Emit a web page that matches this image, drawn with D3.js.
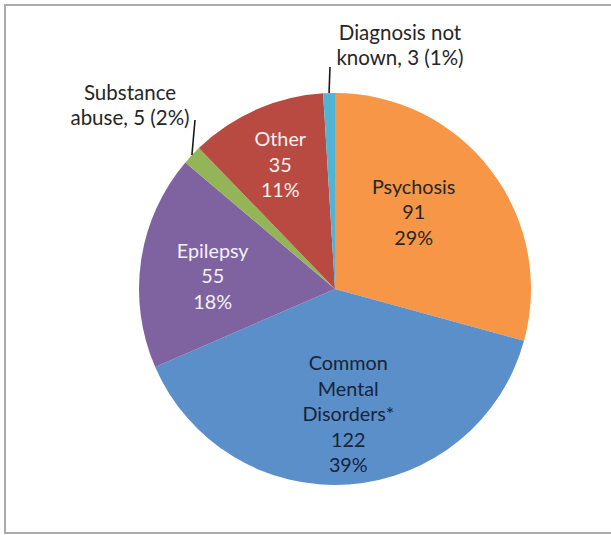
<!DOCTYPE html>
<html>
<head>
<meta charset="utf-8">
<script src="https://cdn.jsdelivr.net/npm/d3@7"></script>
<style>
  body { margin: 0; background: #fff; }
  svg { display: block; }
  text { font-family: Lato, "Open Sans", sans-serif; }
</style>
</head>
<body>
<div id="chart"></div>
<script>
// Chart data
const categories = ["Psychosis", "Common Mental Disorders*", "Epilepsy", "Substance abuse", "Other", "Diagnosis not known"];
const counts = [91, 122, 55, 5, 35, 3];
const percents = ["29%", "39%", "18%", "2%", "11%", "1%"];
const labelLines = [
  ["Psychosis", "91", "29%"],
  ["Common", "Mental", "Disorders*", "122", "39%"],
  ["Epilepsy", "55", "18%"],
  ["Substance", "abuse, 5 (2%)"],
  ["Other", "35", "11%"],
  ["Diagnosis not", "known, 3 (1%)"]
];

const width = 611, height = 535;
const cx = 335, cy = 289, radius = 196;

const colors = ["#F79646", "#5B8FC9", "#7F63A1", "#93B557", "#B84A42", "#52B4D2"];
const textColors = ["#262626", "#17243A", "#F4F2F8", "#262626", "#F8F0EE", "#262626"];
// inside label radius + angle nudge (degrees) per slice; 0 radius = outside label
const labelRadius = [110, 126, 123, 0, 136, 0];
const labelNudge = [-7, -2, -2.4, 0, 0, 0];

const svg = d3.select("#chart")
  .append("svg")
  .attr("width", width)
  .attr("height", height);

// Chart frame
svg.append("rect")
  .attr("x", 5)
  .attr("y", 5)
  .attr("width", 640)
  .attr("height", 528)
  .attr("fill", "#fff")
  .attr("stroke", "#ababab")
  .attr("stroke-width", 2);

const pie = d3.pie().sort(null).value((d) => d);
const arcs = pie(counts);
const arc = d3.arc().innerRadius(0).outerRadius(radius);

const g = svg.append("g").attr("transform", `translate(${cx},${cy})`);

g.selectAll("path.slice")
  .data(arcs)
  .enter()
  .append("path")
  .attr("class", "slice")
  .attr("d", arc)
  .attr("fill", (d, i) => colors[i]);

const fontSize = 19.8;
const lineH = 25.5;

// Inside labels
arcs.forEach((d, i) => {
  if (!labelRadius[i]) return;
  const a = (d.startAngle + d.endAngle) / 2 + (labelNudge[i] * Math.PI) / 180;
  const x = Math.sin(a) * labelRadius[i];
  const y = -Math.cos(a) * labelRadius[i];
  const lines = labelLines[i];
  const y0 = y - ((lines.length - 1) / 2) * lineH + fontSize * 0.36;
  const t = g.append("text")
    .attr("text-anchor", "middle")
    .attr("font-size", fontSize)
    .attr("fill", textColors[i]);
  lines.forEach((s, k) => {
    t.append("tspan").attr("x", x).attr("y", y0 + k * lineH).text(s);
  });
});

// Outside labels with leader lines
const outside = [
  { i: 3, lx: -205, ly: -189, tip: [-140, -169] },
  { i: 5, lx: 65, ly: -249, tip: [-5, -222] }
];
outside.forEach((o) => {
  const d = arcs[o.i];
  const mid = (d.startAngle + d.endAngle) / 2;
  const px = Math.sin(mid) * radius;
  const py = -Math.cos(mid) * radius;
  g.append("line")
    .attr("x1", px)
    .attr("y1", py)
    .attr("x2", o.tip[0])
    .attr("y2", o.tip[1])
    .attr("stroke", "#1a1a1a")
    .attr("stroke-width", 1.6);
  const t = g.append("text")
    .attr("text-anchor", "middle")
    .attr("font-size", 20.5)
    .attr("fill", textColors[o.i]);
  labelLines[o.i].forEach((s, k) => {
    t.append("tspan").attr("x", o.lx).attr("y", o.ly + k * 25).text(s);
  });
});
</script>
</body>
</html>
